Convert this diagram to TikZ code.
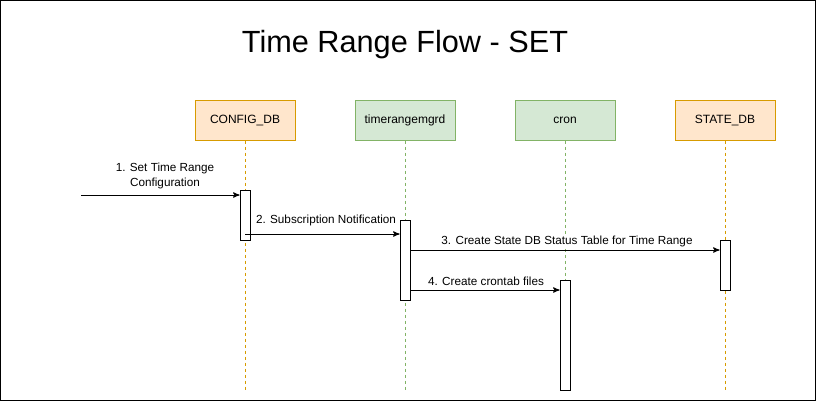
\documentclass[tikz,border=0pt]{standalone}
\usepackage{fontspec}
\setmainfont{Liberation Sans}
\usepackage{xcolor}
\usepackage{tikz}
\usetikzlibrary{arrows}
\definecolor{dbfill}{HTML}{FFE6CC}
\definecolor{dbdraw}{HTML}{D79B00}
\definecolor{procfill}{HTML}{D5E8D4}
\definecolor{procdraw}{HTML}{82B366}
\tikzset{
    actor/.style = {align=center, inner sep=0pt, text centered, minimum width=75pt, minimum height=30pt, line width=0.75pt, font=\fontsize{9}{11}\selectfont},
    db_actor/.style = {actor, draw=dbdraw, fill=dbfill},
    proc_actor/.style = {actor, draw=procdraw, fill=procfill},
    lifeline/.style = {dashed, dash pattern=on 2.25pt off 2.25pt, line width=0.6pt},
    bar/.style = {rectangle, draw=black, fill=white, minimum width=7.5pt, inner sep=0pt, line width=0.75pt},
    msg/.style = {->, line width=0.75pt},
    msglabel/.style = {fill=white, inner sep=1pt, align=center, font=\fontsize{8.8}{11.25}\selectfont}
}
\begin{document}
\begin{tikzpicture}[>=stealth', x=0.75pt, y=-0.75pt]
    \useasboundingbox (0,0) rectangle (816,401);
    \draw[line width=0.75pt] (0.5,0.5) rectangle (815,400);

    \node (title) at (405,45) {\fontsize{23}{27}\selectfont Time Range Flow - SET};

    % participants
    \node [db_actor]   (config) at (245,120) {CONFIG\_DB};
    \node [proc_actor] (mgr)    at (405,120) {timerangemgrd};
    \node [proc_actor] (cron)   at (565,120) {cron};
    \node [db_actor]   (state)  at (725,120) {STATE\_DB};

    % lifelines
    \coordinate (bottom) at (0,390);
    \draw [lifeline, dbdraw]   (config.south) -- (config.south |- bottom);
    \draw [lifeline, procdraw] (mgr.south)    -- (mgr.south |- bottom);
    \draw [lifeline, procdraw] (cron.south)   -- (cron.south |- bottom);
    \draw [lifeline, dbdraw]   (state.south)  -- (state.south |- bottom);

    % activations
    \node [bar, minimum height=37.5pt] (configbar) at (245,215) {};
    \node [bar, minimum height=60pt]   (mgrbar)    at (405,260) {};
    \node [bar, minimum height=37.5pt] (statebar)  at (725,265) {};
    \node [bar, minimum height=82.5pt] (cronbar)   at (565,335) {};

    % messages
    \coordinate (src) at (81,195);
    \coordinate (m2) at (0,234);
    \coordinate (m3) at (0,250);
    \coordinate (m4) at (0,290);
    \draw [msg] (src) -- (src -| configbar.west);
    \node [msglabel] (l1) at (165,176) {1. Set Time Range\\Configuration};
    \draw [msg] (configbar.center |- m2) -- (mgrbar.west |- m2);
    \node [msglabel] (l2) at (326,220) {2. Subscription Notification};
    \draw [msg] (mgrbar.east |- m3) -- (statebar.west |- m3);
    \node [msglabel] (l3) at (567,241) {3. Create State DB Status Table for Time Range};
    \draw [msg] (mgrbar.east |- m4) -- (cronbar.west |- m4);
    \node [msglabel] (l4) at (486,281) {4. Create crontab files};
\end{tikzpicture}
\end{document}
